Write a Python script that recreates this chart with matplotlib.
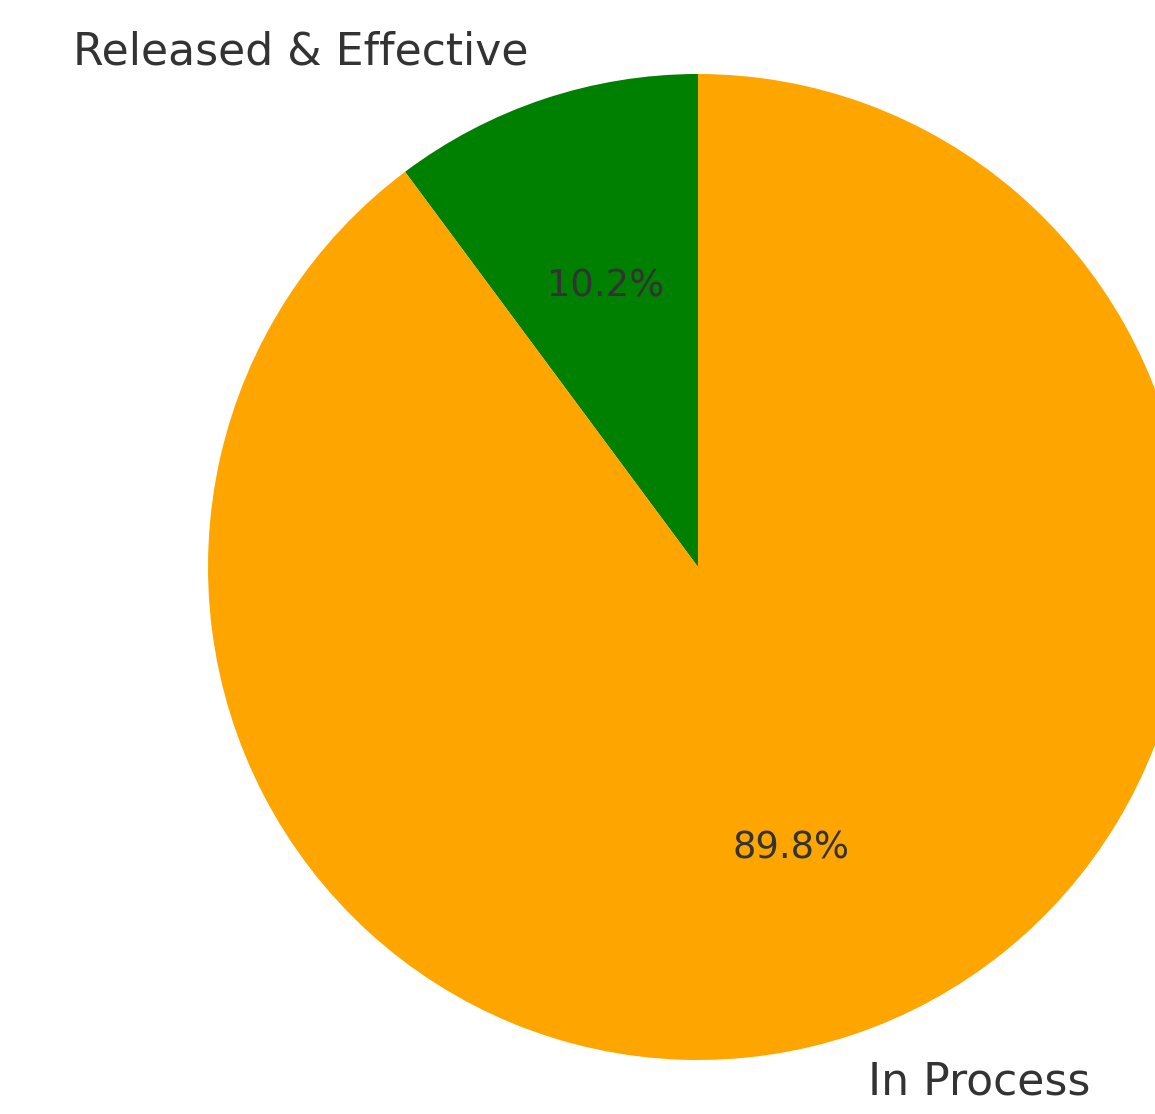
import matplotlib
matplotlib.use('Agg')
import matplotlib.pyplot as plt

labels = ['Released & Effective', 'In Process']
shares = [10.2, 89.8]
colors = ['green', 'orange']

W, H = 1155, 1114
cx, cy = 698, 567     # pie centre in pixels
rx, ry = 490, 493     # radius in pixels (x, y)

fig = plt.figure(figsize=(W / 100, H / 100), dpi=100)
ax = fig.add_axes([0, 0, 1, 1])

ax.pie(shares, labels=labels, colors=colors, autopct='%1.1f%%',
       startangle=90, counterclock=True,
       textprops={'color': '#333333', 'fontsize': 26.6})
for t in ax.texts:
    if t.get_text() in labels:
        t.set_fontsize(31.8)

ax.set_aspect('auto')
ax.set_xlim(-cx / rx, (W - cx) / rx)
ax.set_ylim(-(H - cy) / ry, cy / ry)
ax.axis('off')

fig.savefig('out.png', dpi=100)
